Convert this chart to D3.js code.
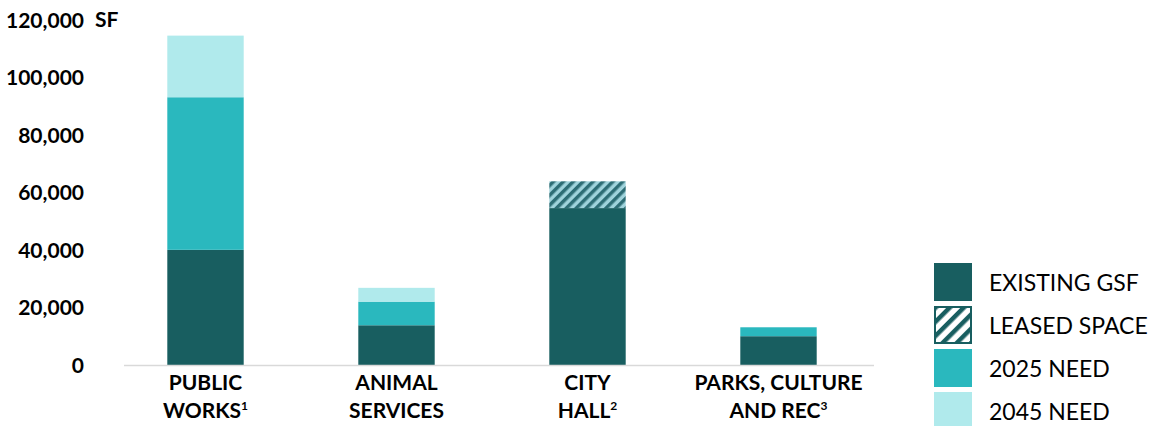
<!DOCTYPE html>
<html>
<head>
<meta charset="utf-8">
<script src="https://cdn.jsdelivr.net/npm/d3@7"></script>
<style>
  body { margin: 0; background: #fff; }
  svg text { font-family: Lato, "Open Sans", sans-serif; fill: #000; }
</style>
</head>
<body>
<svg id="chart" width="1150" height="426"></svg>
<script>
// categories (line 1, line 2, footnote)
var categories = ["PUBLIC WORKS", "ANIMAL SERVICES", "CITY HALL", "PARKS, CULTURE AND REC"];
var labelLines = [["PUBLIC", "WORKS"], ["ANIMAL", "SERVICES"], ["CITY", "HALL"], ["PARKS, CULTURE", "AND REC"]];
var footnotes = ["1", "", "2", "3"];

// series values (SF)
var existingGSF = [40000, 13800, 54500, 10000];
var leasedSpace = [0, 0, 9300, 0];
var need2025 = [53000, 8200, 0, 3100];
var need2045 = [21400, 4800, 0, 0];

var seriesNames = ["EXISTING GSF", "LEASED SPACE", "2025 NEED", "2045 NEED"];
var yTicks = [0, 20000, 40000, 60000, 80000, 100000, 120000];

var colors = {
  "EXISTING GSF": "#185e60",
  "LEASED SPACE": "url(#hatch)",
  "2025 NEED": "#2ab8be",
  "2045 NEED": "#b0eaec"
};

var svg = d3.select("#chart");

// hatch patterns
var defs = svg.append("defs");
var hp = defs.append("pattern")
  .attr("id", "hatch")
  .attr("patternUnits", "userSpaceOnUse")
  .attr("width", 7).attr("height", 7)
  .attr("patternTransform", "rotate(45)");
hp.append("rect").attr("width", 7).attr("height", 7).attr("fill", "#9fd3dc");
hp.append("rect").attr("width", 3.5).attr("height", 7).attr("fill", "#2d6d75");

var hl = defs.append("pattern")
  .attr("id", "hatchLegend")
  .attr("patternUnits", "userSpaceOnUse")
  .attr("width", 10).attr("height", 10)
  .attr("patternTransform", "rotate(45)");
hl.append("rect").attr("width", 10).attr("height", 10).attr("fill", "#fff");
hl.append("rect").attr("width", 4.5).attr("height", 10).attr("fill", "#185e60");

var x = d3.scaleBand()
  .domain(categories)
  .range([110, 874])
  .paddingInner(0.6)
  .paddingOuter(0.3);

var y = d3.scaleLinear()
  .domain([0, 120000])
  .range([365, 19.5]);

// stack the data
var rows = categories.map(function (c, i) {
  return {
    cat: c,
    "EXISTING GSF": existingGSF[i],
    "LEASED SPACE": leasedSpace[i],
    "2025 NEED": need2025[i],
    "2045 NEED": need2045[i]
  };
});
var stack = d3.stack().keys(seriesNames)(rows);

svg.append("g")
  .selectAll("g")
  .data(stack)
  .enter().append("g")
  .attr("fill", function (d) { return colors[d.key]; })
  .selectAll("rect")
  .data(function (d) { return d; })
  .enter().append("rect")
  .attr("x", function (d) { return x(d.data.cat); })
  .attr("width", x.bandwidth())
  .attr("y", function (d) { return y(d[1]); })
  .attr("height", function (d) { return y(d[0]) - y(d[1]); });

// baseline
svg.append("line")
  .attr("x1", 124).attr("x2", 874)
  .attr("y1", y(0) + 0.5).attr("y2", y(0) + 0.5)
  .attr("stroke", "#d9d9d9")
  .attr("stroke-width", 1.5);

// y axis labels
var yAxis = svg.append("g")
  .attr("transform", "translate(84,0)")
  .call(d3.axisLeft(y).tickValues(yTicks).tickSize(0).tickPadding(0)
    .tickFormat(d3.format(",")));
yAxis.select(".domain").remove();
yAxis.selectAll("text")
  .style("font-family", "Lato, sans-serif")
  .style("font-size", "21px")
  .style("font-weight", "bold")
  .attr("dy", "0.36em");

svg.append("text")
  .attr("x", 95).attr("y", y(120000))
  .attr("dy", "0.36em")
  .style("font-size", "21px")
  .style("font-weight", "bold")
  .text("SF");

// category labels
var catG = svg.append("g")
  .selectAll("text")
  .data(categories)
  .enter().append("text")
  .attr("text-anchor", "middle")
  .style("font-size", "21px")
  .style("font-weight", "bold")
  .attr("transform", function (d) {
    return "translate(" + (x(d) + x.bandwidth() / 2) + ",0)";
  });
catG.each(function (d, i) {
  var t = d3.select(this);
  t.append("tspan").attr("x", 0).attr("y", 390).text(labelLines[i][0]);
  t.append("tspan").attr("x", 0).attr("y", 418).text(labelLines[i][1]);
  if (footnotes[i]) {
    t.append("tspan")
      .attr("dy", -8)
      .style("font-size", "12px")
      .text(footnotes[i]);
  }
});

// legend
var legend = svg.append("g")
  .selectAll("g")
  .data(seriesNames)
  .enter().append("g")
  .attr("transform", function (d, i) {
    return "translate(934," + (263 + i * 43) + ")";
  });
legend.append("rect")
  .attr("x", function (d) { return d === "LEASED SPACE" ? 1 : 0; })
  .attr("y", function (d) { return d === "LEASED SPACE" ? 1 : 0; })
  .attr("width", function (d) { return d === "LEASED SPACE" ? 36 : 38; })
  .attr("height", function (d) { return d === "LEASED SPACE" ? 36 : 38; })
  .attr("fill", function (d) { return d === "LEASED SPACE" ? "url(#hatchLegend)" : colors[d]; })
  .attr("stroke", function (d) { return d === "LEASED SPACE" ? "#185e60" : "none"; })
  .attr("stroke-width", 2);
legend.append("text")
  .attr("x", 55)
  .attr("y", 19)
  .attr("dy", "0.37em")
  .style("font-size", "23px")
  .text(function (d) { return d; });
</script>
</body>
</html>
